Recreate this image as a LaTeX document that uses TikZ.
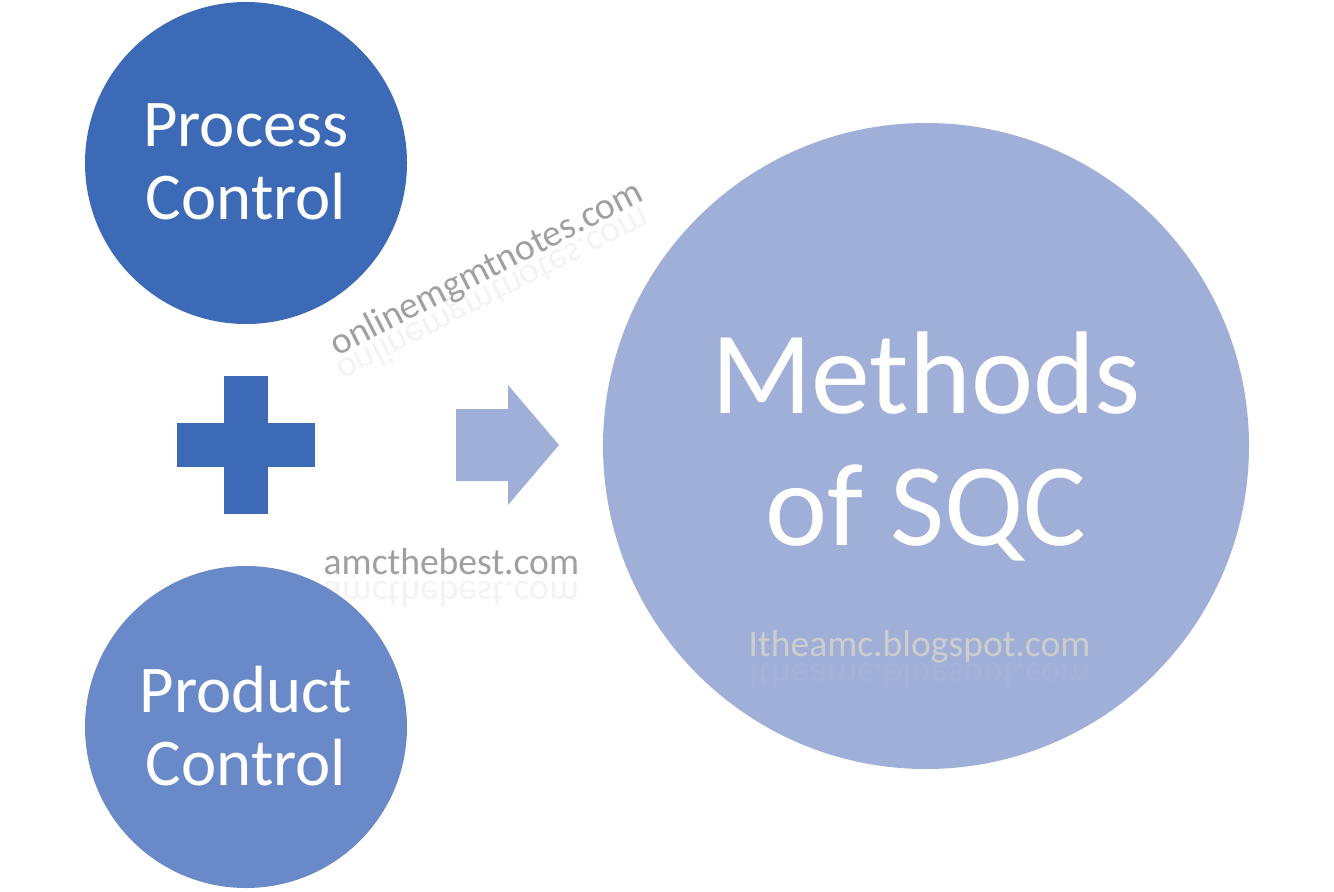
\documentclass[tikz,border=0pt]{standalone}
\usepackage{fontspec}
\setmainfont{Carlito}
\definecolor{procblue}{RGB}{61,106,182}
\definecolor{prodblue}{RGB}{106,137,200}
\definecolor{sqcblue}{RGB}{160,175,216}
\definecolor{wmgray}{RGB}{160,160,160}
\definecolor{wmlight}{RGB}{205,205,205}
\tikzset{
  circtext/.style={text=white, align=center, font=\fontsize{19}{20.8}\selectfont},
  bigtext/.style={text=white, align=center, font=\fontsize{33.5}{37.6}\selectfont},
  wmark/.style={anchor=base west, inner sep=0pt, font=\fontsize{10.7}{12}\selectfont},
  wmshadow/.style={wmark, yscale=-1, transform shape, opacity=0.12}
}
\begin{document}
\begin{tikzpicture}
\useasboundingbox (0,0) rectangle (13.340,8.910);
% circles
\fill[procblue] (2.460,7.280) circle (1.610);
\fill[prodblue] (2.460,1.640) circle (1.610);
\fill[sqcblue] (9.260,4.450) circle (3.230);
\node[circtext] (process) at (2.460,7.290) {Process\\Control};
\node[circtext] (product) at (2.460,1.650) {Product\\Control};
\node[bigtext] (methods) at (9.260,4.450) {Methods\\of SQC};
% plus sign
\fill[procblue] (1.770,4.240) rectangle (3.150,4.680);
\fill[procblue] (2.240,3.770) rectangle (2.680,5.150);
% arrow
\fill[sqcblue] (4.560,4.100) -- (5.080,4.100) -- (5.080,3.860) -- (5.590,4.460)
  -- (5.080,5.060) -- (5.080,4.820) -- (4.560,4.820) -- cycle;
% watermarks
\node[wmark, text=wmgray, rotate=27] (wmonline) at (3.370,5.340) {onlinemgmtnotes.com};
\begin{scope}[shift={(3.336,5.273)}, rotate=27]
\node[wmshadow, text=wmgray] (wmonlinesh) at (0,0) {onlinemgmtnotes.com};
\end{scope}
\node[wmark, text=wmgray] (wmamc) at (3.230,3.170) {amcthebest.com};
\node[wmshadow, text=wmgray] (wmamcsh) at (3.230,3.095) {amcthebest.com};
\node[wmark, text=wmlight] (wmblog) at (7.480,2.350) {Itheamc.blogspot.com};
\node[wmshadow, text=wmlight] (wmblogsh) at (7.480,2.275) {Itheamc.blogspot.com};
\end{tikzpicture}
\end{document}
